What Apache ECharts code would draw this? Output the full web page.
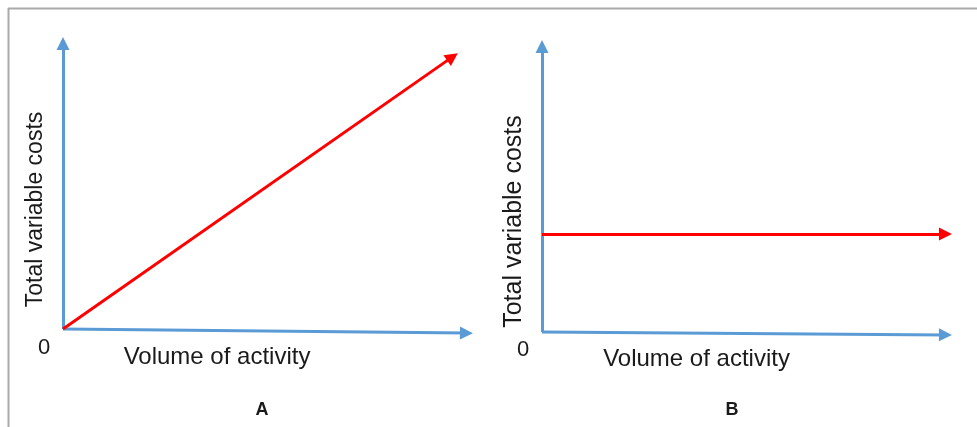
<!DOCTYPE html>
<html>
<head>
<meta charset="utf-8">
<script src="https://cdn.jsdelivr.net/npm/echarts@6/dist/echarts.min.js"></script>
<style>
  html, body { margin: 0; padding: 0; background: #fff; }
  #chart { width: 977px; height: 427px; }
</style>
</head>
<body>
<div id="chart"></div>
<script>
// both panels use a 0..100 scale on each axis; end points are where the shaft meets the arrowhead
var panelNames = ['A', 'B'];
var zeroLabel = '0';
var xAxisName = 'Volume of activity';
var yAxisName = 'Total variable costs';

// panel A: variable cost grows with volume
var axisYA = [[0, 0], [0, 97.8]];
var axisXA = [[0, 0], [98.4, -1.4]];
var costA = [[0, 0], [95.0, 93.2]];

// panel B: variable cost per unit stays flat
var axisYB = [[0, 0], [0, 97.8]];
var axisXB = [[0, 0], [98.4, -1]];
var costB = [[0, 33.6], [98.4, 33.6]];

var blue = '#5b9bd5';
var red = '#ff0000';
var textColor = '#1a1a1a';
var font = '"Liberation Sans", Arial, sans-serif';

function arrowSeries(idx, coords, color) {
    return {
        type: 'lines',
        coordinateSystem: 'cartesian2d',
        xAxisIndex: idx,
        yAxisIndex: idx,
        clip: false,
        silent: true,
        symbol: ['none', 'triangle'],
        symbolSize: [12, 13],
        lineStyle: { color: color, width: 3, opacity: 1 },
        data: [{ coords: coords }]
    };
}

function hiddenAxis(idx) {
    return { type: 'value', gridIndex: idx, min: 0, max: 100, show: false };
}

function label(text, x, y, size, weight, rot) {
    return {
        type: 'text',
        x: x,
        y: y,
        rotation: rot || 0,
        silent: true,
        style: {
            text: text,
            font: (weight || 'normal') + ' ' + size + 'px ' + font,
            fill: textColor,
            align: 'center',
            verticalAlign: 'middle'
        }
    };
}

var chart = echarts.init(document.getElementById('chart'));
chart.setOption({
    backgroundColor: '#ffffff',
    animation: false,
    grid: [
        { left: 63, top: 37, width: 410, height: 292 },
        { left: 542, top: 40, width: 410, height: 292 }
    ],
    xAxis: [hiddenAxis(0), hiddenAxis(1)],
    yAxis: [hiddenAxis(0), hiddenAxis(1)],
    series: [
        arrowSeries(0, axisYA, blue),
        arrowSeries(0, axisXA, blue),
        arrowSeries(0, costA, red),
        arrowSeries(1, axisYB, blue),
        arrowSeries(1, axisXB, blue),
        arrowSeries(1, costB, red)
    ],
    graphic: [
        // frame
        { type: 'line', shape: { x1: 8, y1: 8.5, x2: 977, y2: 8.5 }, style: { stroke: '#aaaaaa', lineWidth: 2 } },
        { type: 'line', shape: { x1: 8.5, y1: 8, x2: 8.5, y2: 427 }, style: { stroke: '#aaaaaa', lineWidth: 2 } },
        // panel A
        label(zeroLabel, 44, 348, 22),
        label(xAxisName, 217, 357, 24),
        label(yAxisName, 36, 209.5, 23, 'normal', Math.PI / 2),
        label(panelNames[0], 262, 410, 18, 'bold'),
        // panel B
        label(zeroLabel, 523, 350, 22),
        label(xAxisName, 696.5, 359, 24),
        label(yAxisName, 514, 221.5, 25, 'normal', Math.PI / 2),
        label(panelNames[1], 732, 410, 18, 'bold')
    ]
});
</script>
</body>
</html>
